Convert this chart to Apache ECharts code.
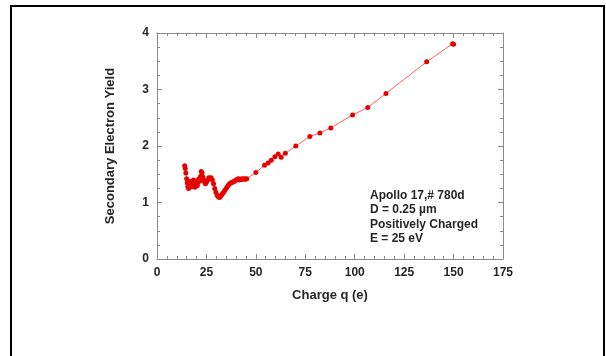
<!DOCTYPE html>
<html>
<head>
<meta charset="utf-8">
<script src="https://cdn.jsdelivr.net/npm/echarts@6/dist/echarts.min.js"></script>
<style>
html,body{margin:0;padding:0;background:#fff;}
#chart{width:606px;height:356px;}
</style>
</head>
<body>
<div id="chart"></div>
<script>
// Data
const charge = [
  14.0, 14.3, 14.6, 15.0, 15.3, 15.6, 16.0, 16.4, 16.8, 17.2, 17.6, 18.0, 18.4, 18.8, 19.2, 19.6,
  20.0, 20.4, 20.8, 21.2, 21.6, 22.0, 22.4, 22.8, 23.2, 23.6, 24.0, 24.5, 25.0, 25.6, 26.2, 26.8,
  27.4, 28.0, 28.6, 29.2, 29.8, 30.4, 31.0, 31.6, 32.2, 32.8, 33.4, 34.0, 34.6, 35.2, 35.8, 36.4,
  37.0, 37.6, 38.2, 38.8, 39.4, 40.0, 40.6, 41.2, 41.8, 42.4, 43.0, 43.6, 44.2, 44.8, 45.4,
  50.0, 54.4, 56.2, 57.8, 59.6, 61.3, 62.8, 64.9, 70.2, 77.3, 82.4, 87.9, 98.9, 106.6, 115.8,
  136.4, 149.5, 150.0
];
const yieldVals = [
  1.65, 1.60, 1.52, 1.42, 1.35, 1.28, 1.25, 1.30, 1.37, 1.33, 1.28, 1.35, 1.40, 1.32, 1.27, 1.33,
  1.38, 1.30, 1.36, 1.42, 1.38, 1.46, 1.55, 1.52, 1.45, 1.40, 1.37, 1.33, 1.36, 1.40, 1.44, 1.43,
  1.44, 1.40, 1.33, 1.25, 1.18, 1.13, 1.10, 1.09, 1.11, 1.14, 1.17, 1.20, 1.23, 1.26, 1.29, 1.32,
  1.34, 1.35, 1.36, 1.37, 1.38, 1.40, 1.41, 1.42, 1.40, 1.41, 1.42, 1.41, 1.42, 1.41, 1.42,
  1.53, 1.66, 1.70, 1.75, 1.81, 1.86, 1.80, 1.87, 2.00, 2.17, 2.23, 2.32, 2.55, 2.68, 2.93,
  3.49, 3.81, 3.80
];
const xTicks = [0, 25, 50, 75, 100, 125, 150, 175];
const yTicks = [0, 1, 2, 3, 4];
const xTitle = 'Charge q (e)';
const yTitle = 'Secondary Electron Yield';
const notes = ['Apollo 17,# 780d', 'D = 0.25 \u00b5m', 'Positively Charged', 'E = 25 eV'];

const seriesData = charge.map((c, i) => [c, yieldVals[i]]);

const fontFam = '"Liberation Sans", Arial, sans-serif';
const axisGray = '#8a8a8a';
const textColor = '#262626';
const labelStyle = {color: textColor, fontFamily: fontFam, fontWeight: 'bold', fontSize: 12};

function axisCommon(showLabel, minorSplit) {
  return {
    axisLine: {show: true, onZero: false, lineStyle: {color: axisGray, width: 1}},
    axisTick: {show: true, inside: true, length: 5, lineStyle: {color: axisGray}},
    minorTick: {show: true, splitNumber: minorSplit, length: 3, lineStyle: {color: axisGray}},
    splitLine: {show: false},
    minorSplitLine: {show: false},
    axisLabel: showLabel ? Object.assign({margin: 8}, labelStyle) : {show: false}
  };
}

const chart = echarts.init(document.getElementById('chart'), null, {renderer: 'canvas'});
const option = {
  animation: false,
  backgroundColor: '#fff',
  grid: {left: 157, right: 103, top: 33, bottom: 97, containLabel: false},
  xAxis: [
    Object.assign({
      type: 'value', position: 'bottom', min: xTicks[0], max: xTicks[xTicks.length - 1], interval: 25,
      name: xTitle, nameLocation: 'middle', nameGap: 30,
      nameTextStyle: {color: textColor, fontFamily: fontFam, fontWeight: 'bold', fontSize: 13}
    }, axisCommon(true, 5)),
    Object.assign({
      type: 'value', position: 'top', min: xTicks[0], max: xTicks[xTicks.length - 1], interval: 25
    }, axisCommon(false, 5))
  ],
  yAxis: [
    Object.assign({
      type: 'value', position: 'left', min: yTicks[0], max: yTicks[yTicks.length - 1], interval: 1,
      name: yTitle, nameLocation: 'middle', nameGap: 40, nameRotate: 90,
      nameTextStyle: {color: textColor, fontFamily: fontFam, fontWeight: 'bold', fontSize: 13}
    }, axisCommon(true, 4)),
    Object.assign({
      type: 'value', position: 'right', min: yTicks[0], max: yTicks[yTicks.length - 1], interval: 1
    }, axisCommon(false, 4))
  ],
  series: [{
    type: 'line',
    xAxisIndex: 0, yAxisIndex: 0,
    data: seriesData,
    symbol: 'circle',
    symbolSize: 5,
    showSymbol: true,
    lineStyle: {color: '#ff6060', width: 1},
    itemStyle: {color: '#e60000'},
    emphasis: {disabled: true}
  }],
  graphic: [
    {
      type: 'rect', silent: true,
      shape: {x: 11, y: 6, width: 593, height: 400},
      style: {fill: 'none', stroke: '#000', lineWidth: 2}
    },
    {
      type: 'text', left: 370, top: 188, silent: true,
      style: {
        text: notes.join('\n'),
        fill: textColor, font: 'bold 12px ' + fontFam, lineHeight: 14.5
      }
    }
  ]
};
chart.setOption(option);
</script>
</body>
</html>
